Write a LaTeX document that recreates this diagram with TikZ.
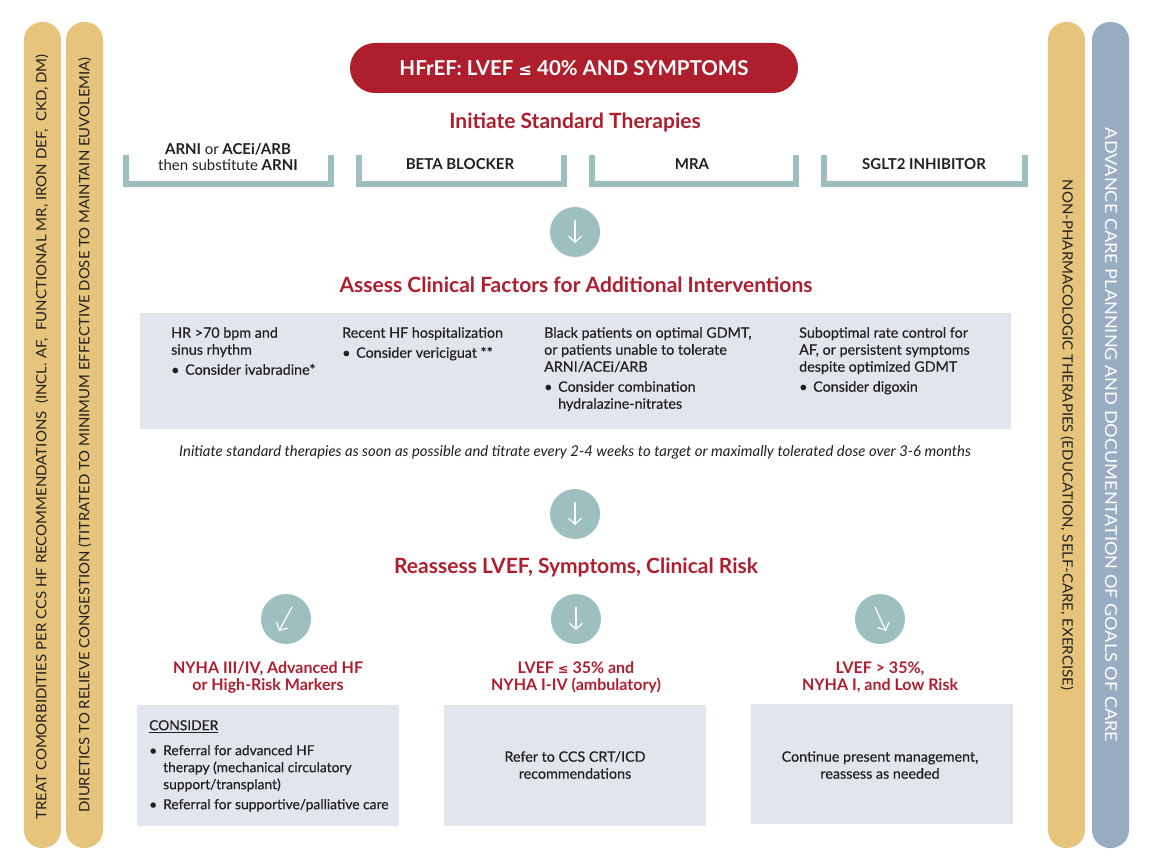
\documentclass[tikz,border=0pt]{standalone}
\usepackage{fontspec}
\setmainfont{Lato}
\newfontfamily\hfsym{DejaVu Sans}
\usetikzlibrary{arrows.meta}
\definecolor{hfred}{HTML}{AF1E2D}
\definecolor{hfteal}{HTML}{9DBFBF}
\definecolor{hfgold}{HTML}{E6C47C}
\definecolor{hfblue}{HTML}{98ADC2}
\definecolor{hfbox}{HTML}{E0E6EC}
\definecolor{hftext}{HTML}{231F20}
\newcommand\hfbul{\makebox[14pt][l]{\textbullet}}
\newcommand\hfind{\hspace*{14pt}}
\newcommand\hfle{{\hfsym\scalebox{0.8}{≤}}}
\begin{document}
\begin{tikzpicture}[x=1pt,y=-1pt,
  barfill/.style={rounded corners=18pt},
  vtext/.style={inner sep=0, text=hftext},
  circ/.style={circle, fill=hfteal, minimum size=50pt, inner sep=0},
  arr/.style={white, line width=1.2pt, -{Straight Barb[length=6pt,width=13pt,line width=1.2pt]}},
  ttl/.style={font=\fontsize{21}{21}\selectfont\bfseries, text=hfred, inner sep=0},
  ther/.style={font=\fontsize{15}{16}\selectfont\bfseries, text=hftext, inner sep=0, align=center},
  bracket/.style={draw=hfteal, line width=5.5pt, line join=miter},
  body/.style={font=\fontsize{14.3}{17}\selectfont\addfontfeature{FakeBold=0.3}, text=hftext, align=left, anchor=north west, inner sep=0},
  redlab/.style={font=\fontsize{16}{17}\selectfont\bfseries, text=hfred, align=center, inner sep=0},
  greybox/.style={fill=hfbox, draw=none}]
\useasboundingbox[fill=white] (0,0) rectangle (1165,866);

% side bars
\fill[hfgold, barfill] (24,22) rectangle (61,848);
\fill[hfgold, barfill] (66,22) rectangle (103,848);
\fill[hfgold, barfill] (1048,22) rectangle (1085,848);
\fill[hfblue, barfill] (1092,22) rectangle (1129,848);
\node[vtext, rotate=90] (v1) at (42,437) {\resizebox{765pt}{11pt}{TREAT COMORBIDITIES PER CCS HF RECOMMENDATIONS\ \ (INCL. AF,\ \ FUNCTIONAL MR, IRON DEF,\ \ CKD, DM)}};
\node[vtext, rotate=90] (v2) at (85,435) {\resizebox{755pt}{11pt}{DIURETICS TO RELIEVE CONGESTION (TITRATED TO MINIMUM EFFECTIVE DOSE TO MAINTAIN EUVOLEMIA)}};
\node[vtext, rotate=-90] (v3) at (1067,435) {\resizebox{510pt}{11pt}{NON-PHARMACOLOGIC THERAPIES (EDUCATION, SELF-CARE, EXERCISE)}};
\node[vtext, rotate=-90, text=white] (v4) at (1111,435) {\resizebox{614pt}{12pt}{ADVANCE CARE PLANNING AND DOCUMENTATION OF GOALS OF CARE}};

% header
\node[fill=hfred, rounded corners=25pt, minimum width=448pt, minimum height=50pt, text=white,
  font=\fontsize{20.5}{20.5}\selectfont\bfseries] (hdr) at (574,68) {HFrEF: LVEF \hfle{} 40\% AND SYMPTOMS};

\node[ttl] (t1) at (575,122) {Initiate Standard Therapies};

% brackets
\draw[bracket] (126,155) -- (126,184) -- (331,184) -- (331,155);
\draw[bracket] (359,155) -- (359,184) -- (564,184) -- (564,155);
\draw[bracket] (592,155) -- (592,184) -- (796,184) -- (796,155);
\draw[bracket] (824,155) -- (824,184) -- (1025,184) -- (1025,155);
\node[ther] (th1) at (228,157) {ARNI \textmd{or} ACEi/ARB\\\textmd{then substitute} ARNI};
\node[ther] (th2) at (460,164) {BETA BLOCKER};
\node[ther] (th3) at (692,164) {MRA};
\node[ther] (th4) at (924,164) {SGLT2 INHIBITOR};

\node[circ] (c1) at (575,232) {};
\draw[arr] ([yshift=12]c1.center) -- ([yshift=-11]c1.center);

\node[ttl] (t2) at (576,285) {Assess Clinical Factors for Additional Interventions};

\node[greybox, minimum width=871pt, minimum height=116pt, inner sep=0] (fbox) at (575.5,371) {};
\node[body] (f1) at (171,327) {HR >70 bpm and\\sinus rhythm\\[3pt]\hfbul Consider ivabradine*};
\node[body] (f2) at (342,327) {Recent HF hospitalization\\[3pt]\hfbul Consider vericiguat **};
\node[body] (f3) at (544,327) {Black patients on optimal GDMT,\\or patients unable to tolerate\\ARNI/ACEi/ARB\\[3pt]\hfbul Consider combination\\\hfind hydralazine-nitrates};
\node[body] (f4) at (799,327) {Suboptimal rate control for\\AF, or persistent symptoms\\despite optimized GDMT\\[3pt]\hfbul Consider digoxin};

\node[font=\fontsize{14.9}{16}\selectfont\itshape, text=hftext, inner sep=0] (note) at (575,452) {Initiate standard therapies as soon as possible and titrate every 2-4 weeks to target or maximally tolerated dose over 3-6 months};

\node[circ] (c2) at (575,514) {};
\draw[arr] ([yshift=12]c2.center) -- ([yshift=-11]c2.center);

\node[ttl] (t3) at (576,567) {Reassess LVEF, Symptoms, Clinical Risk};

\node[circ] (c3) at (286,619) {};
\draw[arr] ([xshift=6,yshift=12]c3.center) -- ([xshift=-7,yshift=-12]c3.center);
\node[circ] (c4) at (576,619) {};
\draw[arr] ([yshift=12]c4.center) -- ([yshift=-11]c4.center);
\node[circ] (c5) at (880,619) {};
\draw[arr] ([xshift=-5,yshift=12]c5.center) -- ([xshift=6,yshift=-12]c5.center);

\node[redlab] (r1) at (268,677) {NYHA III/IV, Advanced HF\\or High-Risk Markers};
\node[redlab] (r2) at (576,677) {LVEF \hfle{} 35\% and\\NYHA I-IV (ambulatory)};
\node[redlab] (r3) at (880,677) {LVEF > 35\%,\\NYHA I, and Low Risk};

\node[greybox, minimum width=262pt, minimum height=121pt, inner sep=0] (b1) at (268,765.5) {};
\node[greybox, minimum width=262pt, minimum height=121pt, inner sep=0] (b2) at (575,765.5) {};
\node[greybox, minimum width=262pt, minimum height=120pt, inner sep=0] (b3) at (882,764) {};

\node[body, font=\fontsize{13.8}{17}\selectfont\addfontfeature{FakeBold=0.3}] (b1t) at (149,720) {\underline{CONSIDER}\\[8pt]\hfbul Referral for advanced HF\\\hfind therapy (mechanical circulatory\\\hfind support/transplant)\\[3pt]\hfbul Referral for supportive/palliative care};
\node[body, anchor=center, align=center] (b2t) at (575,765) {Refer to CCS CRT/ICD\\recommendations};
\node[body, anchor=center, align=center] (b3t) at (880,765) {Continue present management,\\reassess as needed};
\end{tikzpicture}
\end{document}
